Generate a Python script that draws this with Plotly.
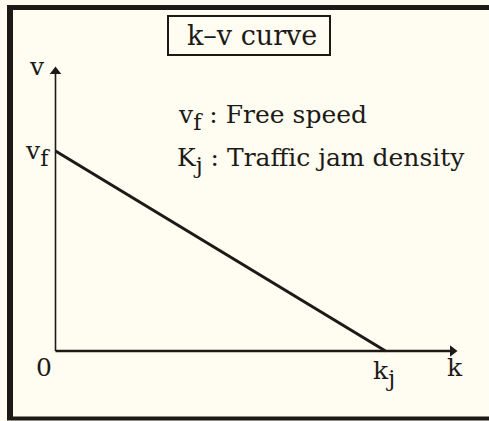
import plotly.graph_objects as go

# Conceptual data (normalised units)
k_vals = [0.0, 1.0]      # density: 0 -> kj
v_vals = [1.0, 0.0]      # speed: vf -> 0
axis_end_k = 1.203       # x-axis arrow extent
axis_end_v = 1.398       # y-axis arrow extent

W, H = 500, 421          # figure slightly wider than the 489px window (right edge clipped)
BG = "#FFFCF1"
INK = "#1c1a17"
FONT = "DejaVu Serif"

# pixel mapping used only for layout ranges
x0_px, kx_px = 55.5, 330      # k=0 at x=55, k=1 at x=385
y0_px, vy_px = 351, 200       # v=0 at y=351, v=1 at y=151

xr = [(0 - x0_px) / kx_px, (W - x0_px) / kx_px]
yr = [(y0_px - H) / vy_px, (y0_px - 0) / vy_px]

def px(x):
    return x / W

def py(y):
    return 1 - y / H

fig = go.Figure()
# k-v line
fig.add_trace(go.Scatter(x=k_vals, y=v_vals, mode="lines",
                         line=dict(color=INK, width=3), hoverinfo="skip",
                         showlegend=False))
# arrowheads
fig.add_trace(go.Scatter(x=[axis_end_k], y=[0], mode="markers",
                         marker=dict(symbol="triangle-right", size=10, color=INK, line=dict(width=0)),
                         hoverinfo="skip", showlegend=False))
fig.add_trace(go.Scatter(x=[0], y=[axis_end_v], mode="markers",
                         marker=dict(symbol="triangle-up", size=10, color=INK, line=dict(width=0)),
                         hoverinfo="skip", showlegend=False))

ann = []

def label(text, x, y, size=25, xanchor="center"):
    ann.append(dict(x=px(x), y=py(y), xref="paper", yref="paper", xanchor=xanchor,
                    yanchor="middle", text=text, showarrow=False,
                    font=dict(family=FONT, size=size, color=INK)))

def sub(s):
    return "<span style='font-size:32px'><sub>" + s + "</sub></span>"

label("k–v curve", 252, 36, size=27)
label("v", 37, 67)
label("v" + sub("f"), 37, 153)
label("0", 44, 367)
label("k" + sub("j"), 384, 373)
label("k", 455, 367)
label("v" + sub("f") + " : Free speed", 176, 117, xanchor="left")
label("K" + sub("j") + " : Traffic jam density", 175, 161, xanchor="left")

shapes = [
    # axes lines
    dict(type="line", xref="x", yref="y", x0=0, x1=axis_end_k, y0=0, y1=0,
         line=dict(color=INK, width=2.5)),
    dict(type="line", xref="x", yref="y", x0=0, x1=0, y0=0, y1=axis_end_v,
         line=dict(color=INK, width=1.6)),
    # title box
    dict(type="rect", xref="paper", yref="paper", x0=px(168), x1=px(330), y0=py(55), y1=py(16),
         line=dict(color=INK, width=2)),
    # outer frame (left, top, bottom)
    dict(type="line", xref="paper", yref="paper", x0=px(10), x1=px(10), y0=py(5), y1=py(420),
         line=dict(color=INK, width=6)),
    dict(type="line", xref="paper", yref="paper", x0=px(7), x1=1.0, y0=py(7.5), y1=py(7.5),
         line=dict(color=INK, width=5)),
    dict(type="line", xref="paper", yref="paper", x0=px(7), x1=1.0, y0=py(418.5), y1=py(418.5),
         line=dict(color=INK, width=4)),
]

fig.update_layout(
    width=W, height=H, margin=dict(l=0, r=0, t=0, b=0),
    paper_bgcolor=BG, plot_bgcolor=BG,
    xaxis=dict(range=xr, visible=False, fixedrange=True),
    yaxis=dict(range=yr, visible=False, fixedrange=True),
    annotations=ann, shapes=shapes,
)

fig.write_html("out.html",
               config=dict(displayModeBar=False, staticPlot=True),
               post_script="document.body.style.margin='0';document.body.style.padding='0';"
                           "document.documentElement.style.overflow='hidden';"
                           "document.documentElement.style.background='" + BG + "';"
                           "document.body.style.background='" + BG + "';")
